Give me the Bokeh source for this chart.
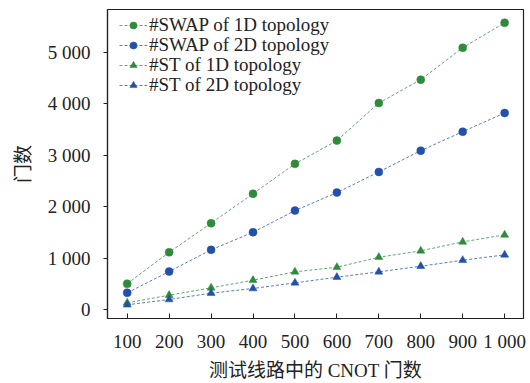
from bokeh.plotting import figure
from bokeh.models import Range1d, FixedTicker, Legend, LegendItem
from bokeh.embed import file_html
from bokeh.resources import INLINE

# ---- data ----
cnot = [100, 200, 300, 400, 500, 600, 700, 800, 900, 1000]
swap_1d = [500, 1112, 1676, 2250, 2830, 3282, 4013, 4466, 5087, 5573]
swap_2d = [324, 738, 1159, 1501, 1922, 2272, 2673, 3087, 3456, 3819]
st_1d = [130, 278, 421, 569, 732, 821, 1016, 1140, 1314, 1450]
st_2d = [91, 194, 317, 408, 518, 628, 732, 841, 957, 1062]

series_labels = ["#SWAP of 1D topology", "#SWAP of 2D topology",
                 "#ST of 1D topology", "#ST of 2D topology"]

x_ticks = [100, 200, 300, 400, 500, 600, 700, 800, 900, 1000]
x_tick_labels = ["100", "200", "300", "400", "500", "600", "700", "800", "900", "1 000"]
y_ticks = [0, 1000, 2000, 3000, 4000, 5000]
y_tick_labels = ["0", "1 000", "2 000", "3 000", "4 000", "5 000"]

x_label = "测试线路中的 CNOT 门数"
y_label = "门数"

FONT = "Liberation Serif, Noto Sans CJK SC"
GREEN = "#2f8a3b"
BLUE = "#2350a8"

p = figure(width=530, height=383, output_backend="svg", toolbar_location=None,
           x_range=Range1d(53, 1045), y_range=Range1d(-175, 5830),
           min_border_left=107, min_border_right=7, min_border_top=9, min_border_bottom=65)

p.grid.visible = False
p.outline_line_color = "#222222"
p.outline_line_width = 1.2
p.background_fill_color = "white"
p.border_fill_color = "white"

specs = [
    (swap_1d, GREEN, "circle", 8),
    (swap_2d, BLUE, "circle", 8),
    (st_1d, GREEN, "triangle", 8),
    (st_2d, BLUE, "triangle", 8),
]
legend_y = [282, 262, 242, 222]  # one legend row per series, stacked 20px apart
for (vals, col, mk, sz), lab, ly in zip(specs, series_labels, legend_y):
    ln = p.line(cnot, vals, line_color=col, line_alpha=0.75, line_width=1, line_dash="3 2")
    sc = p.scatter(cnot, vals, marker=mk, size=sz, fill_color=col, line_color=col, line_width=0.5)
    lg = Legend(items=[LegendItem(label=lab, renderers=[ln, sc])], location=(12, ly))
    lg.label_text_font = "Liberation Serif"
    lg.label_text_font_size = "19px"
    lg.label_text_color = "#222222"
    lg.border_line_color = None
    lg.background_fill_alpha = 0
    lg.glyph_width = 28
    lg.glyph_height = 18
    lg.label_height = 18
    lg.label_standoff = 2
    lg.spacing = 0
    lg.margin = 0
    lg.padding = 4
    p.add_layout(lg)

xa = p.xaxis[0]
xa.ticker = FixedTicker(ticks=x_ticks)
xa.major_label_overrides = {t: l for t, l in zip(x_ticks, x_tick_labels)}
xa.major_tick_in = 5
xa.major_tick_out = 0
xa.minor_tick_line_color = None
xa.axis_label = x_label
ya = p.yaxis[0]
ya.ticker = FixedTicker(ticks=y_ticks)
ya.major_label_overrides = {t: l for t, l in zip(y_ticks, y_tick_labels)}
ya.major_tick_in = 0
ya.major_tick_out = 4
ya.minor_tick_line_color = None
ya.axis_label = y_label

for ax in (xa, ya):
    ax.axis_line_color = "#222222"
    ax.axis_line_width = 1.2
    ax.major_tick_line_color = "#222222"
    ax.major_label_text_font = FONT
    ax.major_label_text_font_size = "19px"
    ax.major_label_text_color = "#222222"
    ax.axis_label_text_font = FONT
    ax.axis_label_text_font_size = "19px"
    ax.axis_label_text_font_style = "normal"
    ax.axis_label_text_color = "#222222"

xa.major_label_standoff = 12
xa.axis_label_standoff = 5
ya.major_label_standoff = 13
ya.axis_label_standoff = 11

open("out.html", "w").write(file_html(p, INLINE))
